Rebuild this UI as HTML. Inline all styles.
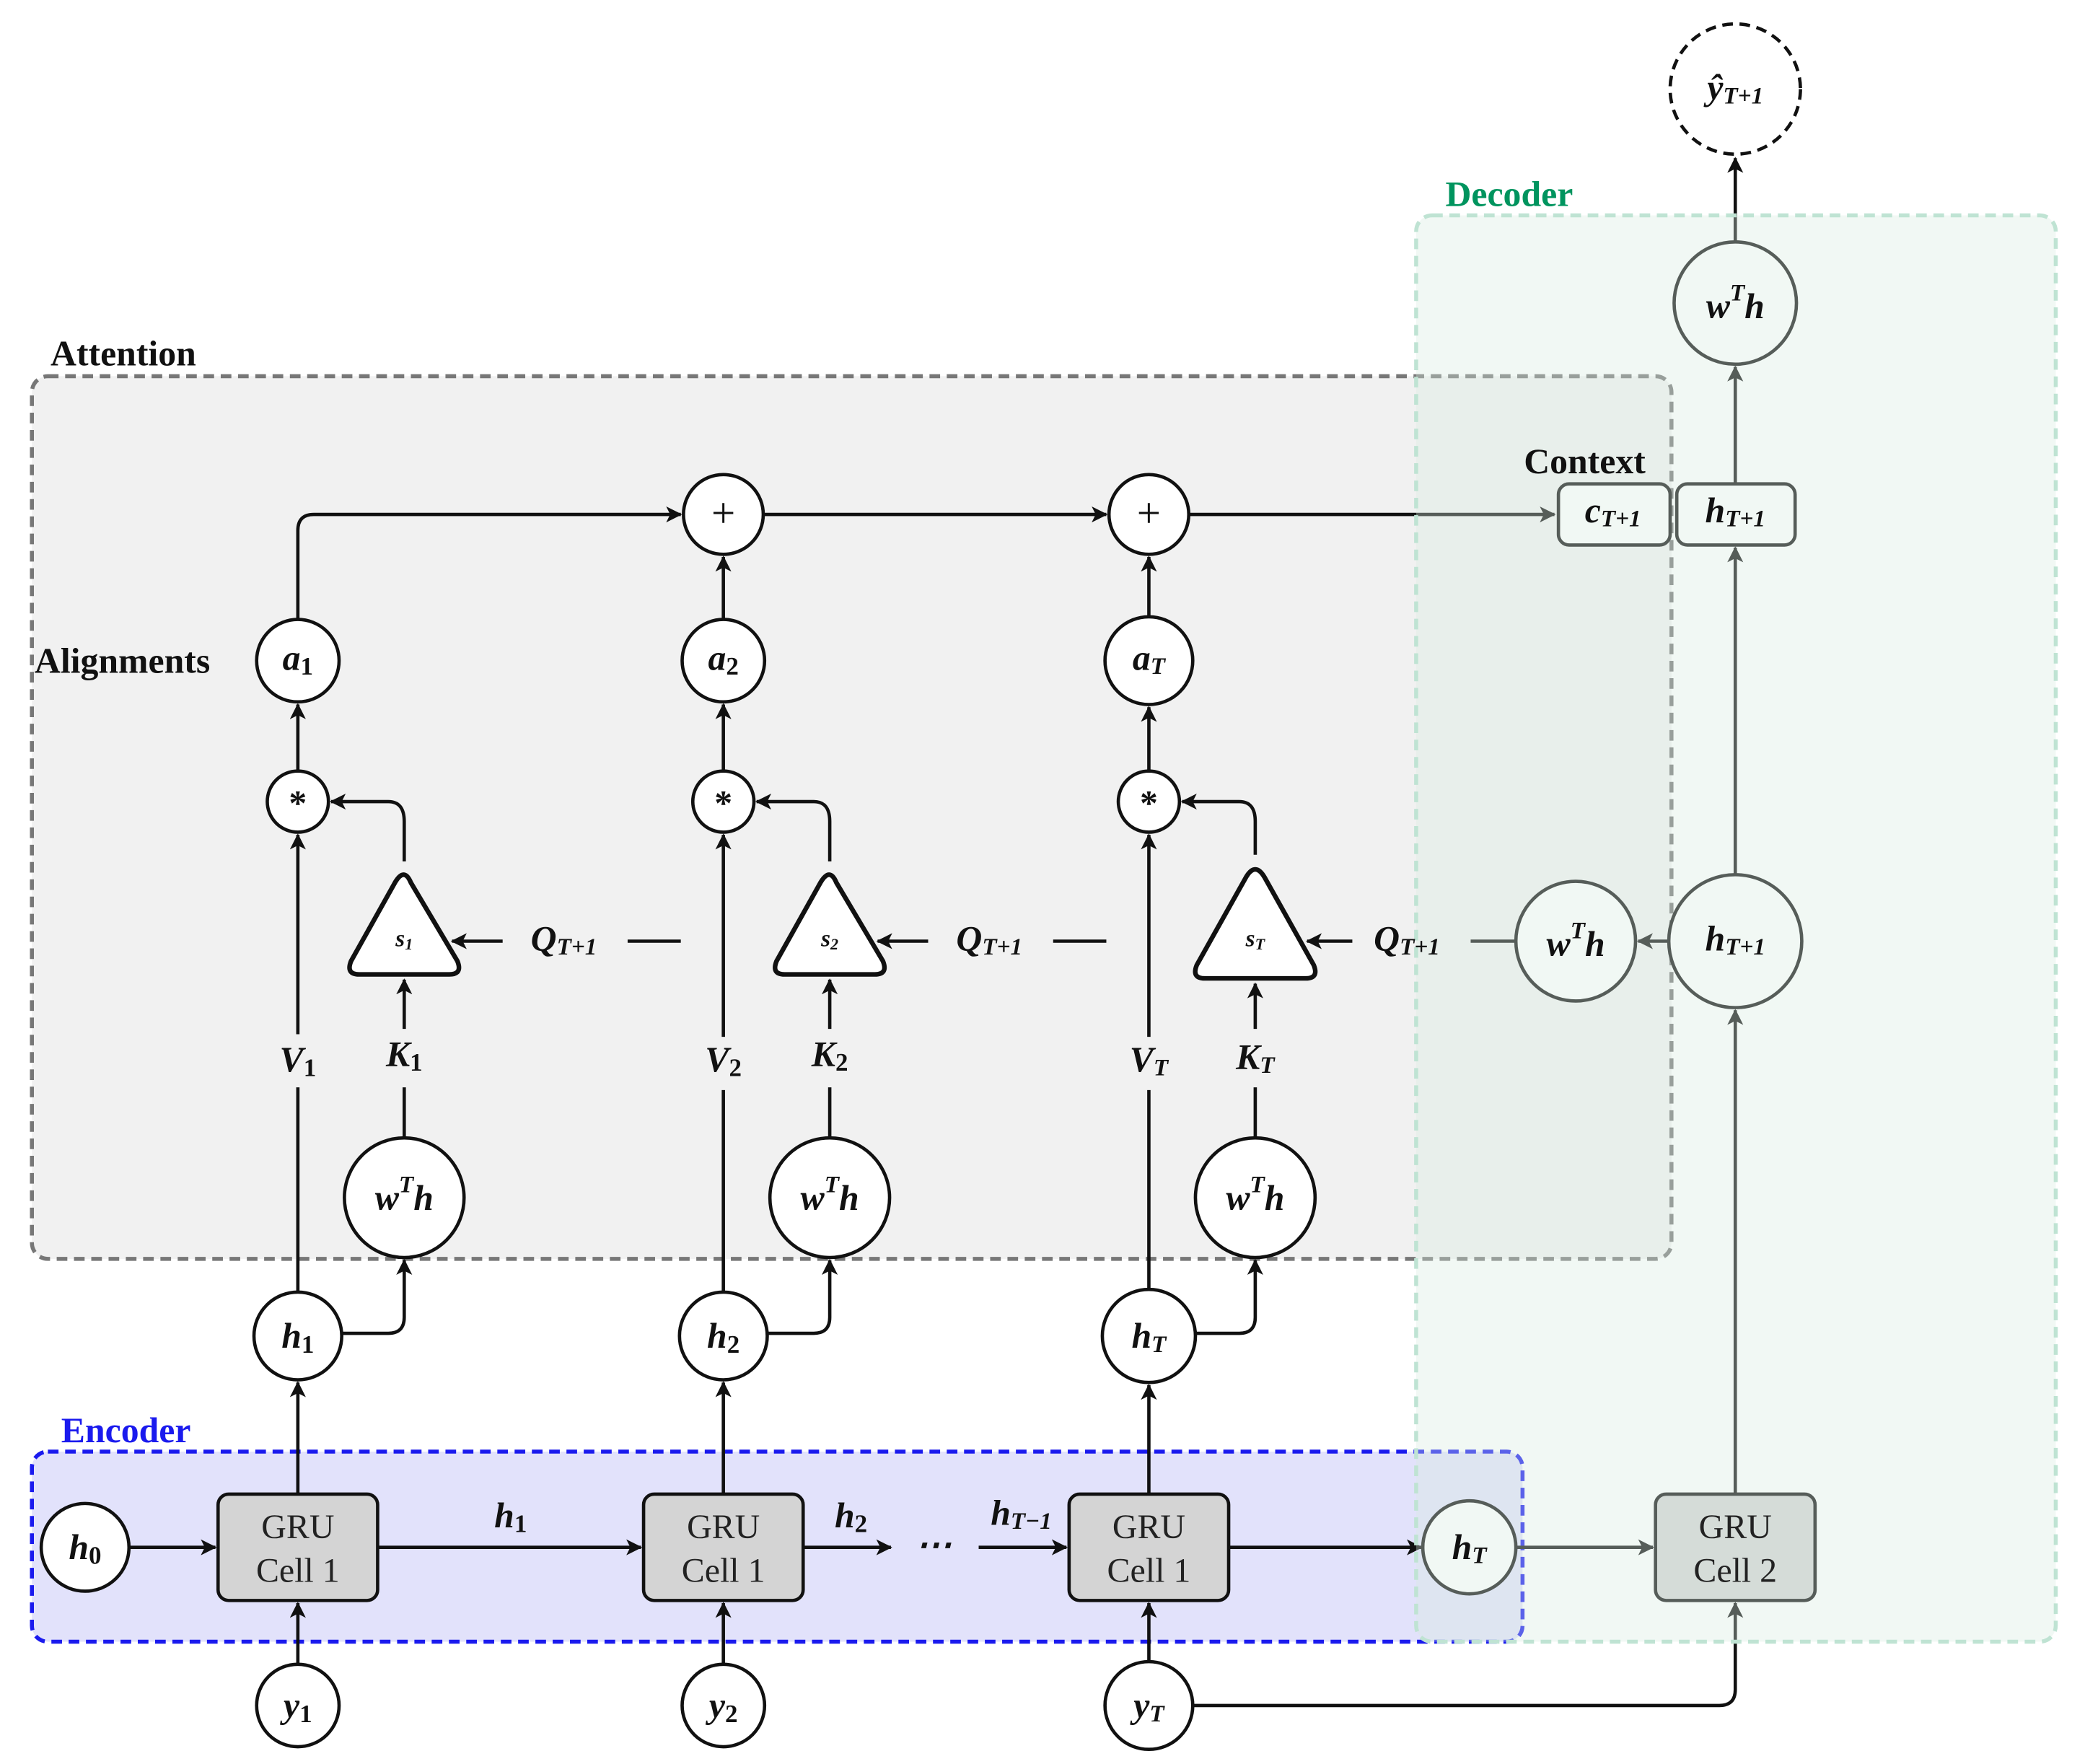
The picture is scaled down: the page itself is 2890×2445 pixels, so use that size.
<!DOCTYPE html>
<html><head><meta charset="utf-8"><style>
html,body{margin:0;padding:0;background:#fff;}
svg{display:block;}
.m{font-family:"Liberation Serif",serif;font-weight:bold;font-style:italic;font-size:27px;text-anchor:middle;dominant-baseline:central;fill:#111;}
.s{font-size:19px;font-style:normal;}
.si{font-size:18px;}
.t{font-family:"Liberation Serif",serif;font-weight:bold;font-size:27px;fill:#111;}
.g{font-family:"Liberation Serif",serif;font-size:26px;text-anchor:middle;fill:#222;}
</style></head><body>
<svg width="2890" height="2445" viewBox="0 0 1568 1327" preserveAspectRatio="none" xmlns="http://www.w3.org/2000/svg">
<defs>
<marker id="a" viewBox="0 0 12 12" refX="11" refY="6" markerWidth="12" markerHeight="12" markerUnits="userSpaceOnUse" orient="auto">
<path d="M0,0 L12,6 L0,12 L3,6 Z" fill="#111"/>
</marker>
</defs>

<rect x="24" y="283" width="1233" height="664" rx="12" fill="#f1f1f1" stroke="#777" stroke-width="3" stroke-dasharray="8,5"/>
<text class="t" x="38" y="275">Attention</text>
<rect x="24" y="1092" width="1121" height="143" rx="12" fill="#e2e2fb" stroke="#1a1aee" stroke-width="3" stroke-dasharray="8,5"/>
<text class="t" x="46" y="1085" style="fill:#1a1aee">Encoder</text>
<text class="t" x="1087" y="155" style="fill:#00945e">Decoder</text>

<g stroke="#111" stroke-width="2.5" fill="none">
<line x1="97" y1="1164" x2="162" y2="1164" marker-end="url(#a)"/>
<line x1="284" y1="1164" x2="482" y2="1164" marker-end="url(#a)"/>
<line x1="604" y1="1164" x2="670" y2="1164" marker-end="url(#a)"/>
<line x1="736" y1="1164" x2="802" y2="1164" marker-end="url(#a)"/>
<line x1="924" y1="1164" x2="1069" y2="1164" marker-end="url(#a)"/>
<line x1="1140" y1="1164" x2="1243" y2="1164" marker-end="url(#a)"/>
<line x1="224" y1="1252" x2="224" y2="1206" marker-end="url(#a)"/>
<line x1="544" y1="1252" x2="544" y2="1206" marker-end="url(#a)"/>
<line x1="864" y1="1250" x2="864" y2="1206" marker-end="url(#a)"/>
<path d="M897,1283 H1293 Q1305,1283 1305,1271 V1206" marker-end="url(#a)"/>
<line x1="224" y1="1124" x2="224" y2="1040" marker-end="url(#a)"/>
<line x1="544" y1="1124" x2="544" y2="1040" marker-end="url(#a)"/>
<line x1="864" y1="1124" x2="864" y2="1042" marker-end="url(#a)"/>
<line x1="1305" y1="1124" x2="1305" y2="760" marker-end="url(#a)"/>
<path d="M257,1003 H292 Q304,1003 304,991 V948" marker-end="url(#a)"/>
<path d="M577,1003 H612 Q624,1003 624,991 V948" marker-end="url(#a)"/>
<path d="M899,1003 H932 Q944,1003 944,991 V948" marker-end="url(#a)"/>
<line x1="224" y1="972" x2="224" y2="818"/><line x1="224" y1="778" x2="224" y2="628" marker-end="url(#a)"/>
<line x1="544" y1="972" x2="544" y2="820"/><line x1="544" y1="780" x2="544" y2="628" marker-end="url(#a)"/>
<line x1="864" y1="970" x2="864" y2="820"/><line x1="864" y1="780" x2="864" y2="628" marker-end="url(#a)"/>
<line x1="304" y1="856" x2="304" y2="818"/><line x1="304" y1="774" x2="304" y2="737" marker-end="url(#a)"/>
<line x1="624" y1="856" x2="624" y2="818"/><line x1="624" y1="774" x2="624" y2="737" marker-end="url(#a)"/>
<line x1="944" y1="856" x2="944" y2="818"/><line x1="944" y1="774" x2="944" y2="740" marker-end="url(#a)"/>
<path d="M304,648 V618 Q304,603 292,603 H249" marker-end="url(#a)"/>
<path d="M624,648 V618 Q624,603 612,603 H569" marker-end="url(#a)"/>
<path d="M944,643 V618 Q944,603 932,603 H889" marker-end="url(#a)"/>
<line x1="224" y1="580" x2="224" y2="530" marker-end="url(#a)"/>
<line x1="544" y1="580" x2="544" y2="530" marker-end="url(#a)"/>
<line x1="864" y1="580" x2="864" y2="532" marker-end="url(#a)"/>
<path d="M224,466 V399 Q224,387 236,387 H512" marker-end="url(#a)"/>
<line x1="544" y1="466" x2="544" y2="419" marker-end="url(#a)"/>
<line x1="864" y1="464" x2="864" y2="419" marker-end="url(#a)"/>
<line x1="574" y1="387" x2="832" y2="387" marker-end="url(#a)"/>
<line x1="894" y1="387" x2="1169" y2="387" marker-end="url(#a)"/>
<line x1="378" y1="708" x2="340" y2="708" marker-end="url(#a)"/>
<line x1="472" y1="708" x2="512" y2="708"/>
<line x1="698" y1="708" x2="660" y2="708" marker-end="url(#a)"/>
<line x1="792" y1="708" x2="832" y2="708"/>
<line x1="1017" y1="708" x2="983" y2="708" marker-end="url(#a)"/>
<line x1="1106" y1="708" x2="1140" y2="708"/>
<line x1="1255" y1="708" x2="1232" y2="708" marker-end="url(#a)"/>
<line x1="1305" y1="658" x2="1305" y2="412" marker-end="url(#a)"/>
<line x1="1305" y1="364" x2="1305" y2="276" marker-end="url(#a)"/>
<line x1="1305" y1="182" x2="1305" y2="119" marker-end="url(#a)"/>
</g>

<g stroke="#111" stroke-width="2.5" fill="#fff">
<circle cx="64" cy="1164" r="33"/>
<circle cx="1105" cy="1164" r="35"/>
<circle cx="224" cy="1283" r="31"/><circle cx="544" cy="1283" r="31"/><circle cx="864" cy="1283" r="33"/>
<circle cx="224" cy="1005" r="33"/><circle cx="544" cy="1005" r="33"/><circle cx="864" cy="1005" r="35"/>
<circle cx="304" cy="901" r="45"/><circle cx="624" cy="901" r="45"/><circle cx="944" cy="901" r="45"/>
<circle cx="224" cy="603" r="23"/><circle cx="544" cy="603" r="23"/><circle cx="864" cy="603" r="23"/>
<circle cx="224" cy="497" r="31"/><circle cx="544" cy="497" r="31"/><circle cx="864" cy="497" r="33"/>
<circle cx="544" cy="387" r="30"/><circle cx="864" cy="387" r="30"/>
<circle cx="1185" cy="708" r="45"/>
<circle cx="1305" cy="708" r="50"/>
<circle cx="1305" cy="228" r="46"/>
<circle cx="1305" cy="67" r="49" stroke-dasharray="8,5"/>
<rect x="1172" y="364" width="84" height="46" rx="8"/>
<rect x="1261" y="364" width="89" height="46" rx="8"/>
</g>
<g stroke="#111" stroke-width="3.5" fill="#fff" stroke-linejoin="round">
<path d="M297,664 Q304,652 309,664 L344,723 Q348,733 338,733 H270 Q260,733 264,723 Z"/>
<path d="M617,664 Q624,652 629,664 L664,723 Q668,733 658,733 H590 Q580,733 584,723 Z"/>
<path d="M937,660 Q944,648 951,660 L988,726 Q992,736 982,736 H906 Q896,736 900,726 Z"/>
</g>
<g stroke="#111" stroke-width="2.5" fill="#d4d4d4">
<rect x="164" y="1124" width="120" height="80" rx="8"/>
<rect x="484" y="1124" width="120" height="80" rx="8"/>
<rect x="804" y="1124" width="120" height="80" rx="8"/>
<rect x="1245" y="1124" width="120" height="80" rx="8"/>
</g>

<rect x="1065" y="162" width="481" height="1073" rx="12" fill="#d8ebdf" fill-opacity="0.35" stroke="#bfe3d3" stroke-width="3" stroke-dasharray="8,5"/>

<g class="g">
<text x="224" y="1157">GRU</text><text x="224" y="1190">Cell 1</text>
<text x="544" y="1157">GRU</text><text x="544" y="1190">Cell 1</text>
<text x="864" y="1157">GRU</text><text x="864" y="1190">Cell 1</text>
<text x="1305" y="1157">GRU</text><text x="1305" y="1190">Cell 2</text>
</g>
<text class="t" x="26" y="506">Alignments</text>
<text class="t" x="1146" y="356">Context</text>

<text class="m" x="64" y="1164">h<tspan class="s" dy="6">0</tspan></text>
<text class="m" x="1105" y="1164">h<tspan class="si" dy="6">T</tspan></text>
<text class="m" x="384" y="1140">h<tspan class="s" dy="6">1</tspan></text>
<text class="m" x="640" y="1140">h<tspan class="s" dy="6">2</tspan></text>
<text class="m" x="702" y="1162">⋯</text>
<text class="m" x="768" y="1138">h<tspan class="si" dy="6">T−1</tspan></text>
<text class="m" x="224" y="1283">y<tspan class="s" dy="6">1</tspan></text>
<text class="m" x="544" y="1283">y<tspan class="s" dy="6">2</tspan></text>
<text class="m" x="864" y="1283">y<tspan class="si" dy="6">T</tspan></text>
<text class="m" x="224" y="1005">h<tspan class="s" dy="6">1</tspan></text>
<text class="m" x="544" y="1005">h<tspan class="s" dy="6">2</tspan></text>
<text class="m" x="864" y="1005">h<tspan class="si" dy="6">T</tspan></text>
<text class="m" x="304" y="901">w<tspan class="si" dy="-10">T</tspan><tspan dy="10">h</tspan></text>
<text class="m" x="624" y="901">w<tspan class="si" dy="-10">T</tspan><tspan dy="10">h</tspan></text>
<text class="m" x="944" y="901">w<tspan class="si" dy="-10">T</tspan><tspan dy="10">h</tspan></text>
<text class="m" x="1185" y="710">w<tspan class="si" dy="-10">T</tspan><tspan dy="10">h</tspan></text>
<text class="m" x="1305" y="230">w<tspan class="si" dy="-10">T</tspan><tspan dy="10">h</tspan></text>
<text class="m" x="224" y="797">V<tspan class="s" dy="6">1</tspan></text>
<text class="m" x="304" y="793">K<tspan class="s" dy="6">1</tspan></text>
<text class="m" x="544" y="797">V<tspan class="s" dy="6">2</tspan></text>
<text class="m" x="624" y="793">K<tspan class="s" dy="6">2</tspan></text>
<text class="m" x="864" y="797">V<tspan class="si" dy="6">T</tspan></text>
<text class="m" x="944" y="795">K<tspan class="si" dy="6">T</tspan></text>
<text class="m" x="304" y="706" style="font-size:18px">s<tspan style="font-size:12px" dy="4">1</tspan></text>
<text class="m" x="624" y="706" style="font-size:18px">s<tspan style="font-size:12px" dy="4">2</tspan></text>
<text class="m" x="944" y="706" style="font-size:18px">s<tspan style="font-size:12px" dy="4">T</tspan></text>
<text class="m" x="424" y="706">Q<tspan class="si" dy="6">T+1</tspan></text>
<text class="m" x="744" y="706">Q<tspan class="si" dy="6">T+1</tspan></text>
<text class="m" x="1058" y="706">Q<tspan class="si" dy="6">T+1</tspan></text>
<text class="m" x="1305" y="706">h<tspan class="si" dy="6">T+1</tspan></text>
<text class="m" x="224" y="604" style="font-style:normal">*</text>
<text class="m" x="544" y="604" style="font-style:normal">*</text>
<text class="m" x="864" y="604" style="font-style:normal">*</text>
<text class="m" x="224" y="495">a<tspan class="s" dy="6">1</tspan></text>
<text class="m" x="544" y="495">a<tspan class="s" dy="6">2</tspan></text>
<text class="m" x="864" y="495">a<tspan class="si" dy="6">T</tspan></text>
<text class="m" x="544" y="386" style="font-style:normal;font-weight:normal;font-size:32px">+</text>
<text class="m" x="864" y="386" style="font-style:normal;font-weight:normal;font-size:32px">+</text>
<text class="m" x="1213" y="384">c<tspan class="si" dy="6">T+1</tspan></text>
<text class="m" x="1305" y="384">h<tspan class="si" dy="6">T+1</tspan></text>
<text class="m" x="1305" y="66">ŷ<tspan class="si" dy="6">T+1</tspan></text>
</svg>
</body></html>
